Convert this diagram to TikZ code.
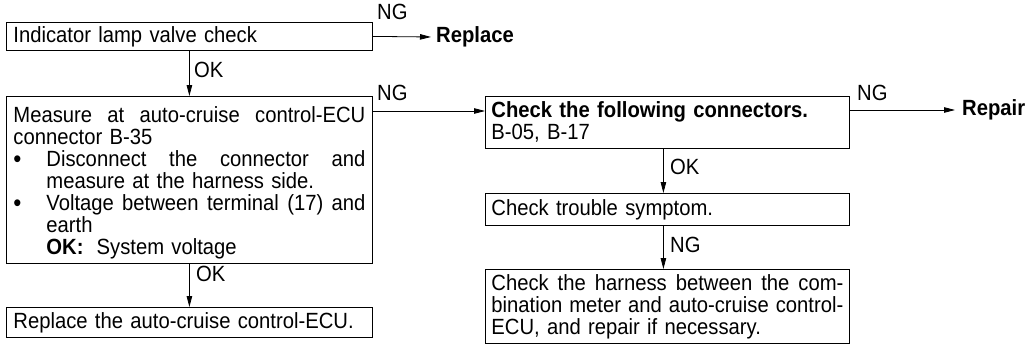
\documentclass[tikz,border=0pt]{standalone}
\usepackage{fontspec}
\setmainfont{Liberation Sans}[WordSpace=1.3, FakeStretch=0.92]
\usetikzlibrary{arrows.meta}
\newcommand{\bul}{\makebox[33pt][l]{\smash{\raisebox{-1pt}{\fontsize{25}{22}\selectfont\textbullet}}}}
\begin{document}
\begin{tikzpicture}[x=1pt,y=-1pt,
  txt/.style={font=\fontsize{22}{22}\selectfont},
  box/.style={txt, draw, line width=0.8pt, anchor=north west, inner xsep=7pt, inner ysep=0pt},
  arr/.style={line width=0.8pt, -{Triangle[length=11pt,width=5.5pt]}},
  lbl/.style={txt, inner sep=0pt, anchor=west}]
\useasboundingbox (0,0) rectangle (1035,345);

% left column
\node[box, text width=352pt, minimum height=28pt, align=left] (b1) at (6,22) {Indicator lamp valve check};
\node[box, text width=352pt, minimum height=167pt, align=justify] (b2) at (6,96) {%
\rule{0pt}{22pt}Measure at auto-cruise control-ECU\linebreak connector B-35\par
{\hangindent=33pt\hangafter=1\noindent\bul Disconnect the connector and\linebreak measure at the harness side.\par}
{\hangindent=33pt\hangafter=1\noindent\bul Voltage between terminal (17) and\linebreak earth\par}
\noindent\hspace*{33pt}\textbf{OK:}\hspace{0.6em}System voltage};
\node[box, text width=352pt, minimum height=30pt, align=left] (b3) at (6,307) {Replace the auto-cruise control-ECU.};

\node[lbl, font=\fontsize{22}{22}\selectfont\bfseries, inner xsep=5pt] (rep) at (431,37) {Replace};

% right column
\node[box, inner xsep=6pt, text width=352pt, minimum height=52pt, align=left] (chk) at (485,96) {\textbf{Check the following connectors.}\\B-05, B-17};
\node[box, inner xsep=6pt, text width=352pt, minimum height=32pt, align=left] (trb) at (485,193) {Check trouble symptom.};
\node[box, inner xsep=6pt, text width=352pt, minimum height=74pt, align=justify] (har) at (485,269) {Check the harness between the com-\linebreak bination meter and auto-cruise control-\linebreak ECU, and repair if necessary.};

\node[lbl, font=\fontsize{22}{22}\selectfont\bfseries, inner xsep=7pt] (rpr) at (955,110) {Repair};

% connectors
\draw[arr] (b1.east) -- (rep.west);
\node[lbl] at (377,12) {NG};
\draw[arr] (b1.south) -- (b2.north);
\node[lbl] at (194,70) {OK};
\draw[arr] ([yshift=-15pt]b2.north east) -- ([yshift=-15pt]chk.north west);
\node[lbl] at (377,93) {NG};
\draw[arr] (b2.south) -- (b3.north);
\node[lbl] at (196,274) {OK};
\draw[arr] ([yshift=-14pt]chk.north east) -- (rpr.west);
\node[lbl] at (857,93) {NG};
\draw[arr] ([xshift=-4pt]chk.south) -- ([xshift=-4pt]trb.north);
\node[lbl] at (670,167) {OK};
\draw[arr] ([xshift=-4pt]trb.south) -- ([xshift=-4pt]har.north);
\node[lbl] at (670,245) {NG};
\end{tikzpicture}
\end{document}
